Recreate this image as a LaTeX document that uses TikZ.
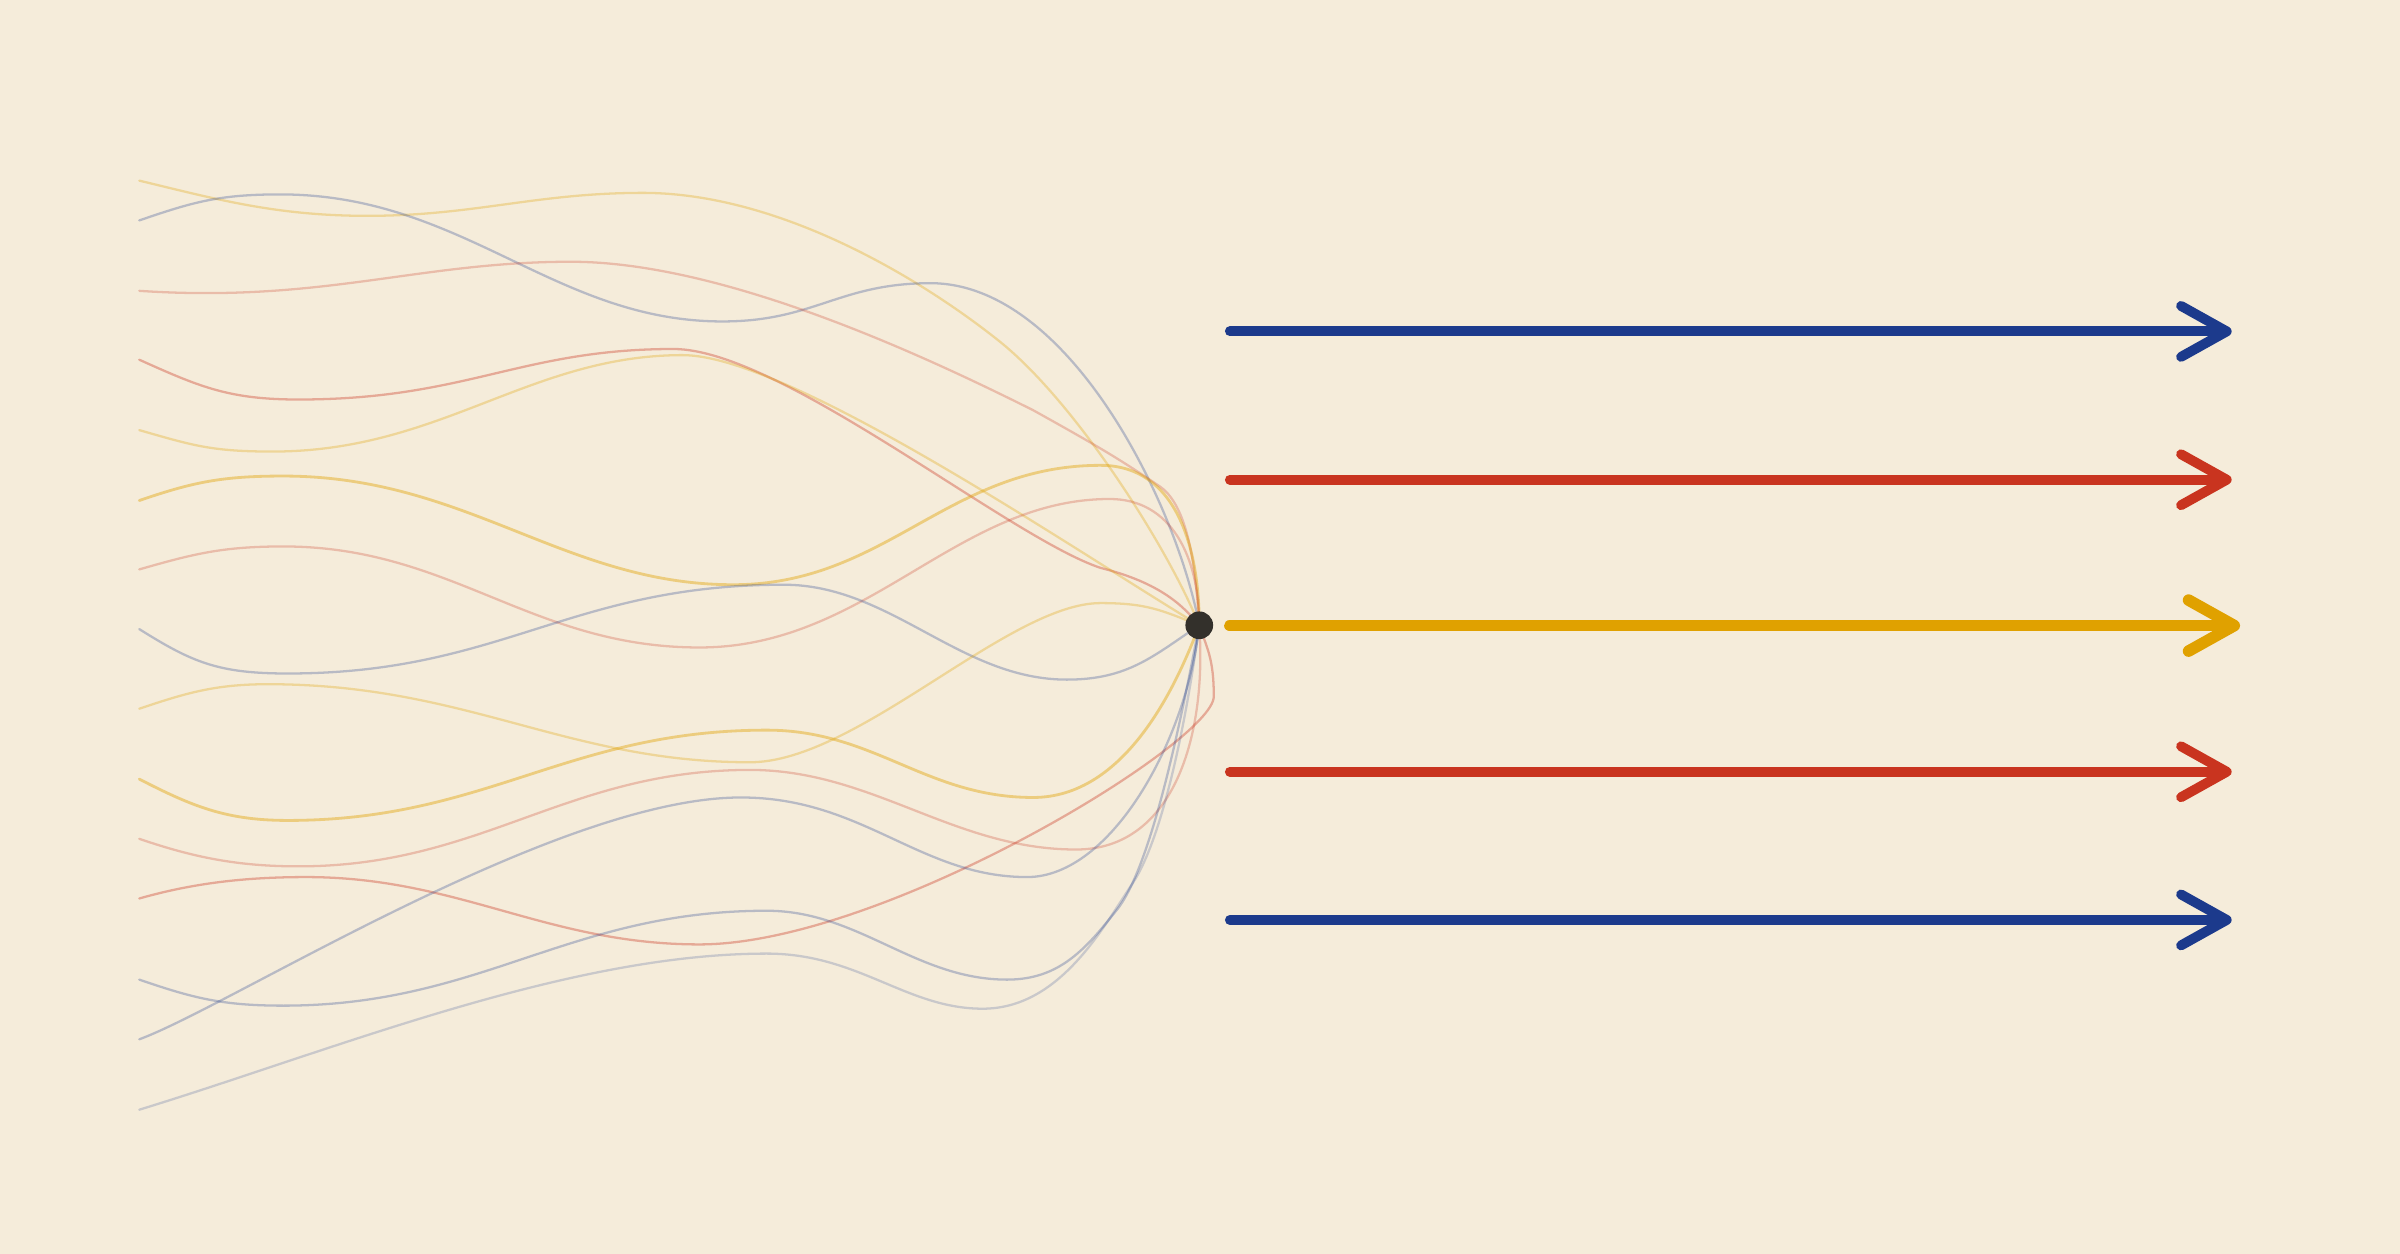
\documentclass[tikz,border=0pt]{standalone}
\usetikzlibrary{arrows.meta}
\definecolor{paper}{HTML}{F5ECDA}
\definecolor{navy}{HTML}{1C3A8C}
\definecolor{brick}{HTML}{C9341F}
\definecolor{gold}{HTML}{E0A100}
\definecolor{ink}{HTML}{33302B}
\tikzstyle{strand} = [line width=0.65pt,line cap=round,line join=round]
\tikzstyle{goldfaint} = [strand,draw=gold,draw opacity=.3]
\tikzstyle{goldwire} = [strand,draw=gold,draw opacity=.42,line width=0.8pt]
\tikzstyle{brickfaint} = [strand,draw=brick,draw opacity=.26]
\tikzstyle{brickwire} = [strand,draw=brick,draw opacity=.36]
\tikzstyle{navywire} = [strand,draw=navy,draw opacity=.28]
\tikzstyle{navyfaint} = [strand,draw=navy,draw opacity=.2]
\tikzstyle{beam} = [line width=2.8pt,line cap=round,-{Straight Barb[length=13pt,width=14.5pt,round]}]
\tikzstyle{hubdot} = [circle,fill=ink,inner sep=0,minimum size=0.277cm]

\begin{document}
\begin{tikzpicture}[x=0.015306cm,y=-0.015306cm]
  \fill[paper] (0,0) rectangle (1568,819);
  \coordinate (hub) at (783.5,408.5);
  % loose ends on the left
  \coordinate (w1) at (91,118);
  \coordinate (w2) at (91,144);
  \coordinate (w3) at (91,190);
  \coordinate (w4) at (91,235);
  \coordinate (w5) at (91,281);
  \coordinate (w6) at (91,327);
  \coordinate (w7) at (91,372);
  \coordinate (w8) at (91,411);
  \coordinate (w9) at (91,463);
  \coordinate (w10) at (91,509);
  \coordinate (w11) at (91,548);
  \coordinate (w12) at (91,587);
  \coordinate (w13) at (91,640);
  \coordinate (w14) at (91,679);
  \coordinate (w15) at (91,725);

  % strands into the hub
  \draw[goldfaint] (w1) .. controls +(50,12) and +(-60,0) .. (240,141)
    .. controls +(70,0) and +(-70,0) .. (420,126)
    .. controls +(90,0) and +(-50,-40) .. (653,223)
    .. controls +(50,40) and +(-20,-50) .. (hub);
  \draw[navywire] (w2) .. controls +(35,-12) and +(-40,0) .. (183,127)
    .. controls +(120,0) and +(-110,0) .. (472,210)
    .. controls +(60,0) and +(-60,0) .. (608,185)
    .. controls +(90,0) and +(-15,-80) .. (hub);
  \draw[brickfaint] (w3) .. controls +(120,8) and +(-100,0) .. (373,171)
    .. controls +(100,0) and +(-70,-35) .. (675,268)
    .. controls +(45,25) and +(-25,-17) .. (758,318)
    .. controls +(20,14) and +(-2,-30) .. (hub);
  \draw[brickwire] (w4) .. controls +(40,18) and +(-45,0) .. (195,261)
    .. controls +(110,0) and +(-100,0) .. (440,228)
    .. controls +(70,0) and +(-60,-20) .. (719,371)
    .. controls +(40,10) and +(-10,-12) .. (hub);
  \draw[goldfaint] (w5) .. controls +(35,10) and +(-40,0) .. (178,295)
    .. controls +(110,0) and +(-100,0) .. (446,232)
    .. controls +(70,0) and +(-80,-48) .. (hub);
  \draw[goldwire] (w6) .. controls +(35,-12) and +(-40,0) .. (185,311)
    .. controls +(120,0) and +(-110,0) .. (479,382)
    .. controls +(100,0) and +(-100,0) .. (719,304)
    .. controls +(50,0) and +(0,-50) .. (hub);
  \draw[brickfaint] (w7) .. controls +(35,-10) and +(-40,0) .. (185,357)
    .. controls +(110,0) and +(-110,0) .. (457,423)
    .. controls +(110,0) and +(-100,0) .. (725,326)
    .. controls +(40,0) and +(0,-45) .. (hub);
  \draw[navywire] (w8) .. controls +(35,22) and +(-45,0) .. (188,440)
    .. controls +(140,0) and +(-140,0) .. (512,382)
    .. controls +(70,0) and +(-70,0) .. (697,444)
    .. controls +(40,0) and +(-30,20) .. (hub);
  \draw[goldfaint] (w9) .. controls +(30,-10) and +(-35,0) .. (175,447)
    .. controls +(130,0) and +(-120,0) .. (490,498)
    .. controls +(70,0) and +(-60,0) .. (719,394)
    .. controls +(30,0) and +(-25,-10) .. (hub);
  \draw[goldwire] (w10) .. controls +(35,18) and +(-40,0) .. (188,536)
    .. controls +(130,0) and +(-130,0) .. (501,477)
    .. controls +(70,0) and +(-70,0) .. (675,521)
    .. controls +(60,0) and +(-15,40) .. (hub);
  \draw[brickfaint] (w11) .. controls +(35,12) and +(-40,0) .. (195,566)
    .. controls +(120,0) and +(-120,0) .. (490,503)
    .. controls +(80,0) and +(-80,0) .. (703,555)
    .. controls +(65,0) and +(5,70) .. (hub);
  \draw[brickwire] (w12) .. controls +(35,-10) and +(-40,0) .. (200,573)
    .. controls +(100,0) and +(-100,0) .. (457,617)
    .. controls +(120,0) and +(0,30) .. (793,455)
    .. controls +(0,-25) and +(5,15) .. (hub);
  \draw[navywire] (w13) .. controls +(35,12) and +(-40,0) .. (185,657)
    .. controls +(130,0) and +(-130,0) .. (501,595)
    .. controls +(60,0) and +(-60,0) .. (658,640)
    .. controls +(35,0) and +(-20,25) .. (730,594)
    .. controls +(25,-32) and +(-8,40) .. (hub);
  \draw[navywire] (w14) .. controls +(60,-22) and +(-120,0) .. (484,521)
    .. controls +(80,0) and +(-70,0) .. (671,573)
    .. controls +(55,0) and +(-8,75) .. (hub);
  \draw[navyfaint] (w15) .. controls +(130,-40) and +(-130,0) .. (501,623)
    .. controls +(60,0) and +(-50,0) .. (642,659)
    .. controls +(50,0) and +(-20,30) .. (740,577)
    .. controls +(20,-30) and +(-8,60) .. (hub);

  \node[hubdot] (dot) at (hub) {};

  % outgoing beams
  \coordinate (b1s) at (803.5,216.5);  \coordinate (b1e) at (1458,216.5);
  \coordinate (b2s) at (803.5,313.4);  \coordinate (b2e) at (1458,313.4);
  \coordinate (b3s) at (803.5,408.7);  \coordinate (b3e) at (1463.5,408.7);
  \coordinate (b4s) at (803.5,504.2);  \coordinate (b4e) at (1458,504.2);
  \coordinate (b5s) at (803.5,601);    \coordinate (b5e) at (1458,601);
  \draw[beam,navy] (b1s) -- (b1e);
  \draw[beam,brick] (b2s) -- (b2e);
  \draw[beam,gold,line width=3.3pt] (b3s) -- (b3e);
  \draw[beam,brick] (b4s) -- (b4e);
  \draw[beam,navy] (b5s) -- (b5e);
\end{tikzpicture}
\end{document}
